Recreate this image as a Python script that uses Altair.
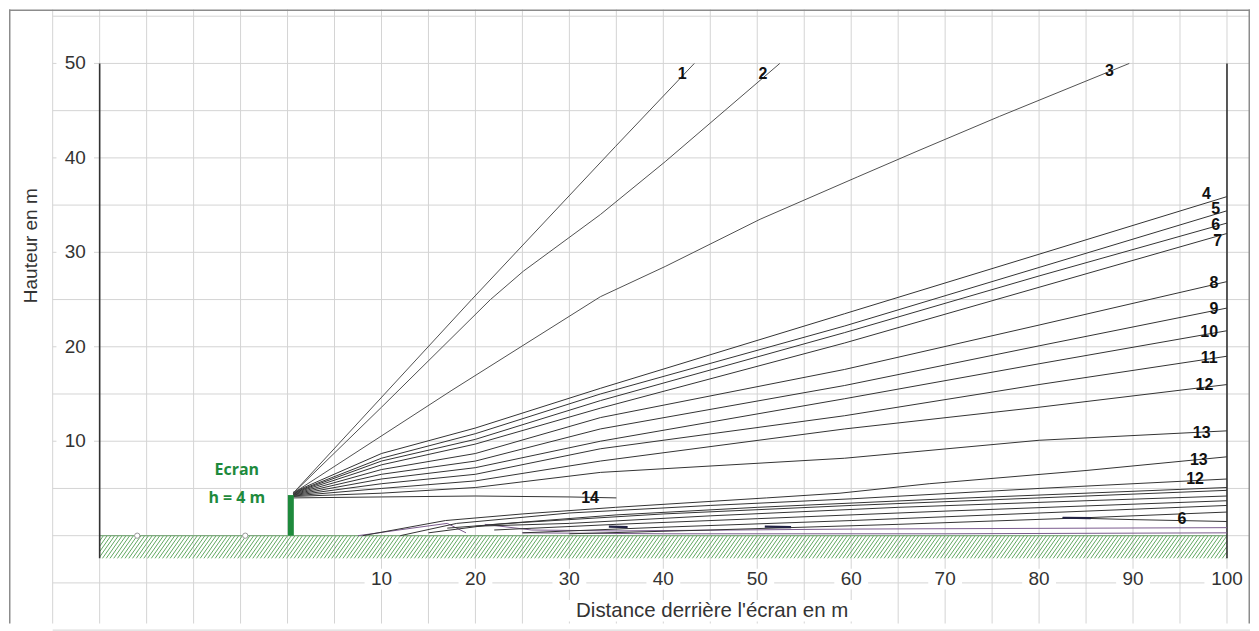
import altair as alt
import numpy as np
import pandas as pd

# ---------------- chart frame / scales ----------------
X_DOMAIN = [-29.65, 102.45]
Y_DOMAIN = [-9.30, 55.71]
W, H = 1243, 615

# ---------------- axis / grid values ----------------
x_ticks = [10, 20, 30, 40, 50, 60, 70, 80, 90, 100]
y_ticks = [10, 20, 30, 40, 50]
grid_x = list(range(-25, 101, 5))
grid_y = list(range(-10, 56, 5))

# ---------------- trajectories ----------------
ray1_x = [0.6, 19.6, 34.9, 43.3]
ray1_y = [4.5, 25.0, 41.2, 50.0]
ray2_x = [0.6, 10, 21.6, 25.1, 33.3, 40.2, 52.4]
ray2_y = [4.5, 13.6, 25.0, 28.0, 34.0, 39.6, 50.0]
ray3_x = [0.6, 17.5, 33.3, 40.2, 50.3, 60.7, 67.0, 75.8, 89.6]
ray3_y = [4.5, 15.4, 25.3, 28.5, 33.5, 38.0, 40.7, 44.4, 50.0]

fam_x = [0.6, 10, 20, 33.3, 59.3, 80, 100]
fam4_y = [4.6, 8.7, 11.4, 15.6, 23.5, 29.8, 35.9]
fam5_y = [4.55, 8.2, 10.8, 15.0, 22.2, 28.4, 34.4]
fam6_y = [4.5, 7.9, 10.2, 14.3, 21.5, 27.5, 33.1]
fam7_y = [4.45, 7.5, 9.7, 13.5, 20.4, 26.3, 32.0]
fam8_y = [4.4, 7.0, 8.7, 12.5, 17.6, 22.3, 26.9]
fam9_y = [4.35, 6.5, 7.9, 11.3, 15.9, 20.1, 24.1]
fam10_y = [4.3, 6.0, 7.2, 10.0, 14.5, 18.2, 21.7]
fam11_y = [4.25, 5.5, 6.5, 9.2, 12.7, 16.0, 19.0]
fam12_y = [4.2, 5.0, 5.8, 7.9, 11.3, 13.6, 16.0]
fam13_y = [4.15, 4.5, 5.1, 6.7, 8.2, 10.1, 11.1]

ray14_x = [0.6, 10, 20, 30, 35]
ray14_y = [4.0, 4.1, 4.2, 4.1, 4.0]

# lower bundle (from the ground)
low_a_x = [8, 16.8, 25, 34.9, 51, 58.8, 68.3, 85, 100]
low_a_y = [0.0, 1.6, 2.3, 3.0, 4.0, 4.5, 5.5, 6.9, 8.35]
low_b_x = [12, 18, 30, 45, 60, 80, 100]
low_b_y = [0.0, 1.3, 2.4, 3.2, 3.9, 5.0, 6.0]
low_c_x = [15, 22, 35, 50, 70, 100]
low_c_y = [0.3, 1.2, 2.2, 3.0, 3.9, 5.1]
low_d_x = [17, 25, 40, 60, 80, 100]
low_d_y = [0.8, 1.4, 2.3, 3.2, 4.0, 4.8]
low_e_x = [20, 30, 45, 65, 85, 100]
low_e_y = [1.0, 1.3, 2.1, 3.0, 3.7, 4.2]
low_f_x = [22, 35, 50, 70, 100]
low_f_y = [0.6, 1.2, 1.8, 2.6, 3.7]
low_g_x = [25, 40, 60, 80, 100]
low_g_y = [0.3, 0.9, 1.6, 2.4, 3.2]
low_h_x = [30, 45, 65, 85, 100]
low_h_y = [0.2, 0.6, 1.2, 1.9, 2.5]
low_6_x = [82.5, 90, 100]
low_6_y = [1.9, 1.7, 1.5]
low_s1_x = [50.8, 53.6]
low_s1_y = [0.95, 0.9]
low_s2_x = [34.2, 36.2]
low_s2_y = [0.95, 0.9]
low_s3_x = [82.5, 85.5]
low_s3_y = [1.9, 1.85]

purple1_x = [7.5, 14, 17, 19]
purple1_y = [0.0, 0.9, 1.3, 0.3]
purple2_x = [21, 26, 35, 60, 100]
purple2_y = [1.2, 0.6, 0.5, 0.7, 0.85]
purple3_x = [25, 40, 70, 100]
purple3_y = [0.3, 0.2, 0.2, 0.3]

# curve labels
lab_text = ["1", "2", "3", "4", "5", "6", "7", "8", "9", "10", "11", "12",
            "13", "13", "12", "6", "14"]
lab_x = [42.0, 50.6, 87.5, 97.8, 98.8, 98.8, 99.0, 98.6, 98.6, 98.1, 98.1,
         97.6, 97.3, 97.0, 96.6, 95.2, 32.2]
lab_y = [48.9, 48.9, 49.2, 36.2, 34.6, 32.9, 31.2, 26.7, 24.0, 21.6, 18.8,
         16.0, 10.9, 8.0, 6.0, 1.8, 4.0]

# ground markers, screen
marker_x = [-16.0, -4.5]
marker_y = [0.0, 0.0]
screen_x = [0.35]
screen_y0 = [0.0]
screen_y1 = [4.3]
ground_x0, ground_x1 = -20, 100
ground_depth = -2.4
axis_top = 50

# ---------------- helpers ----------------
XS = alt.Scale(domain=X_DOMAIN, nice=False, zero=False)
YS = alt.Scale(domain=Y_DOMAIN, nice=False, zero=False)


def X(f):
    return alt.X(f + ":Q", scale=XS, axis=None)


def Y(f):
    return alt.Y(f + ":Q", scale=YS, axis=None)


def series(name, xs, ys):
    return pd.DataFrame({"id": name, "ord": range(len(xs)), "x": xs, "y": ys})


FONT = "Liberation Sans"
GRID = "#d4d4d4"

# grid
vgrid = pd.DataFrame({"x": grid_x, "y": Y_DOMAIN[0], "y2": Y_DOMAIN[1]})
hgrid = pd.DataFrame({"y": grid_y, "x": -25, "x2": X_DOMAIN[1]})
vgrid_l = alt.Chart(vgrid).mark_rule(color=GRID, strokeWidth=1).encode(
    x=X("x"), y=Y("y"), y2="y2")
hgrid_l = alt.Chart(hgrid).mark_rule(color=GRID, strokeWidth=1).encode(
    y=Y("y"), x=X("x"), x2="x2")

# white label backgrounds
xlab_bg = pd.DataFrame({
    "x": [t - (1.8 if t < 100 else 2.4) for t in x_ticks],
    "x2": [t + (1.8 if t < 100 else 2.4) for t in x_ticks],
    "y": -3.5, "y2": -5.7})
ylab_bg = pd.DataFrame({"x": -24.6, "x2": -20.6,
                        "y": [t - 0.95 for t in y_ticks],
                        "y2": [t + 0.95 for t in y_ticks]})
title_bg = pd.DataFrame({"x": [29.6], "x2": [60.8], "y": [-6.8], "y2": [-9.1]})
bg_l = alt.layer(*[
    alt.Chart(d).mark_rect(color="white").encode(x=X("x"), x2="x2", y=Y("y"), y2="y2")
    for d in (xlab_bg, ylab_bg, title_bg)])

# hatch
hdx = 1.7
starts = np.arange(ground_x0 - hdx, ground_x1, 0.4)
rows = []
for x0 in starts:
    xa, ya = x0, ground_depth
    xb, yb = x0 + hdx, 0.0
    if xa < ground_x0:
        ya = ground_depth + (ground_x0 - x0) / hdx * (-ground_depth)
        xa = ground_x0
    if xb > ground_x1:
        yb = ground_depth + (ground_x1 - x0) / hdx * (-ground_depth)
        xb = ground_x1
    rows.append({"x": xa, "y": ya, "x2": xb, "y2": yb})
hatch = pd.DataFrame(rows)
hatch_l = alt.Chart(hatch).mark_rule(color="#5fa85f", strokeWidth=1).encode(
    x=X("x"), y=Y("y"), x2="x2", y2="y2")
ground_line = alt.Chart(pd.DataFrame({"x": [ground_x0], "x2": [ground_x1], "y": [0]})).mark_rule(
    color="#7faa7f", strokeWidth=1.3).encode(x=X("x"), x2="x2", y=Y("y"))

# axes lines
axes = pd.DataFrame({"x": [ground_x0, ground_x1], "y": ground_depth, "y2": axis_top})
axes_l = alt.Chart(axes).mark_rule(color="#333333", strokeWidth=1.6).encode(
    x=X("x"), y=Y("y"), y2="y2")

# curves
rays = pd.concat([series("r1", ray1_x, ray1_y), series("r2", ray2_x, ray2_y),
                  series("r3", ray3_x, ray3_y)])
fam = pd.concat([series("f%d" % i, fam_x, ys) for i, ys in
                 zip(range(4, 14), [fam4_y, fam5_y, fam6_y, fam7_y, fam8_y, fam9_y,
                                    fam10_y, fam11_y, fam12_y, fam13_y])]
                + [series("f14", ray14_x, ray14_y)])
low = pd.concat([series("a", low_a_x, low_a_y), series("b", low_b_x, low_b_y),
                 series("c", low_c_x, low_c_y), series("d", low_d_x, low_d_y),
                 series("e", low_e_x, low_e_y), series("f", low_f_x, low_f_y),
                 series("g", low_g_x, low_g_y), series("h", low_h_x, low_h_y),
                 series("six", low_6_x, low_6_y)])
low_short = pd.concat([series("s1", low_s1_x, low_s1_y), series("s2", low_s2_x, low_s2_y),
                       series("s3", low_s3_x, low_s3_y)])
purple = pd.concat([series("p1", purple1_x, purple1_y), series("p2", purple2_x, purple2_y),
                    series("p3", purple3_x, purple3_y)])


def lines(df, color, width):
    return alt.Chart(df).mark_line(color=color, strokeWidth=width).encode(
        x=X("x"), y=Y("y"), detail="id:N", order="ord:Q")


rays_l = lines(rays, "#505050", 1.0)
fam_l = lines(fam, "#333333", 1.0)
low_l = lines(low, "#333333", 1.0)
short_l = lines(low_short, "#222244", 2.2)
purple_l = lines(purple, "#7a5a8e", 1.0)

# screen
screen = pd.DataFrame({"x": screen_x, "y": screen_y0, "y2": screen_y1})
screen_l = alt.Chart(screen).mark_rule(color="#1e8a3c", strokeWidth=6).encode(
    x=X("x"), y=Y("y"), y2="y2")

markers = pd.DataFrame({"x": marker_x, "y": marker_y})
markers_l = alt.Chart(markers).mark_point(
    shape="circle", filled=True, fill="white", stroke="#999999", strokeWidth=1, size=28,
    opacity=1).encode(x=X("x"), y=Y("y"))

# texts
xt = pd.DataFrame({"x": x_ticks, "y": -4.55, "t": [str(v) for v in x_ticks]})
yt = pd.DataFrame({"x": -22.6, "y": y_ticks, "t": [str(v) for v in y_ticks]})
tick_text = alt.layer(*[
    alt.Chart(d).mark_text(font=FONT, fontSize=19, color="#333333", align="center",
                           baseline="middle").encode(x=X("x"), y=Y("y"), text="t:N")
    for d in (xt, yt)])

titles = alt.layer(
    alt.Chart(pd.DataFrame({"x": [45.2], "y": [-7.95], "t": ["Distance derrière l'écran en m"]}))
    .mark_text(font=FONT, fontSize=20.5, color="#333333", align="center", baseline="middle")
    .encode(x=X("x"), y=Y("y"), text="t:N"),
    alt.Chart(pd.DataFrame({"x": [-27.3], "y": [30.7], "t": ["Hauteur en m"]}))
    .mark_text(font=FONT, fontSize=19, color="#333333", align="center", baseline="middle",
               angle=270)
    .encode(x=X("x"), y=Y("y"), text="t:N"),
)

labels = pd.DataFrame({"x": lab_x, "y": lab_y, "t": lab_text})
labels_l = alt.Chart(labels).mark_text(font=FONT, fontSize=16, fontWeight="bold",
                                       color="#111111", align="center",
                                       baseline="middle").encode(
    x=X("x"), y=Y("y"), text="t:N")

ecran = pd.DataFrame({"x": [-5.4, -5.4], "y": [7.0, 4.0], "t": ["Ecran", "h = 4 m"]})
ecran_l = alt.Chart(ecran).mark_text(font="Open Sans", fontSize=16, fontWeight="bold",
                                     color="#1e8a3c", align="center",
                                     baseline="middle").encode(
    x=X("x"), y=Y("y"), text="t:N")

# outer frame (left, top, right)
frame = alt.layer(
    alt.Chart(pd.DataFrame({"a": [0]})).mark_rule(color="#8c8c8c", strokeWidth=1.5).encode(
        x=alt.value(0.75), y=alt.value(0), y2=alt.value(H)),
    alt.Chart(pd.DataFrame({"a": [0]})).mark_rule(color="#8c8c8c", strokeWidth=1.5).encode(
        x=alt.value(W - 0.75), y=alt.value(0), y2=alt.value(H)),
    alt.Chart(pd.DataFrame({"a": [0]})).mark_rule(color="#8c8c8c", strokeWidth=1.5).encode(
        y=alt.value(0.75), x=alt.value(0), x2=alt.value(W)),
)

chart = alt.layer(
    vgrid_l, hgrid_l, bg_l, hatch_l, ground_line, axes_l,
    purple_l, low_l, short_l, fam_l, rays_l, screen_l, markers_l,
    tick_text, titles, labels_l, ecran_l, frame,
).properties(width=W, height=H, padding=0, background="white").configure_view(
    stroke=None)

chart.save("out.html", embed_options={"renderer": "svg", "actions": False})
